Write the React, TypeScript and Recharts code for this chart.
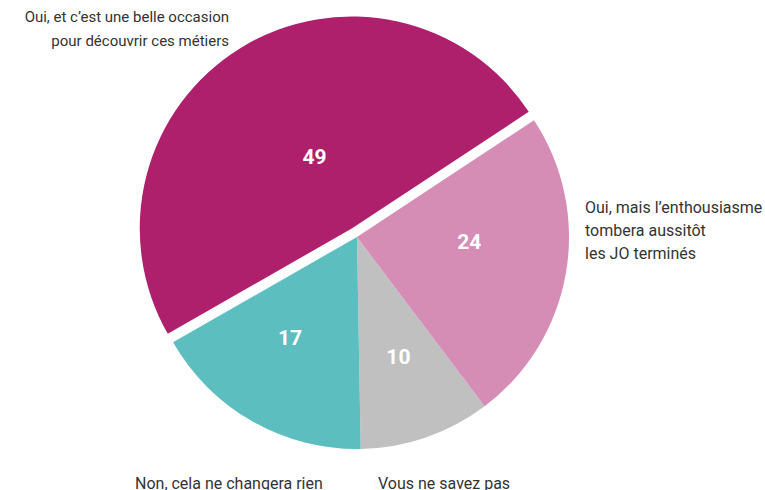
import React from 'react';
import { PieChart, Pie, Cell } from 'recharts';

// answers, counter-clockwise from the bottom
const answers = [
  'Vous ne savez pas',
  'Oui, mais l\u2019enthousiasme tombera aussitôt les JO terminés',
  'Oui, et c\u2019est une belle occasion pour découvrir ces métiers',
  'Non, cela ne changera rien',
];
const shares = [10, 24, 49, 17];
const COLORS = ['#c0c0c0', '#d58cb5', '#ae1f6c', '#5cbebf'];
const EXPLODED = 2;

const data = answers.map((name, i) => ({ name, value: shares[i] }));

const W = 765;
const H = 490;
const CX = 357;
const CY = 237;
const R = 212;
const START = -89;
const PULL = 10;
// label placement tweaks (radius fraction, angle nudge in degrees)
const LABEL_R = [0.6, 0.53, 0.38, 0.57];
const LABEL_TURN = [0, 7, -4, -4];
const RAD = Math.PI / 180;

const total = shares.reduce((a, b) => a + b, 0);
const before = shares.slice(0, EXPLODED).reduce((a, b) => a + b, 0);
const pullAngle = START + (360 * (before + shares[EXPLODED] / 2)) / total;
const pullX = Math.cos(pullAngle * RAD) * PULL;
const pullY = -Math.sin(pullAngle * RAD) * PULL;

const renderValue = (show: (i: number) => boolean) => (props: any) => {
  const { cx, cy, midAngle, outerRadius, index, value } = props;
  if (!show(index)) return null;
  const r = outerRadius * LABEL_R[index];
  const a = (midAngle + LABEL_TURN[index]) * RAD;
  const x = cx + r * Math.cos(-a);
  const y = cy + r * Math.sin(-a);
  return (
    <text
      x={x}
      y={y}
      fill="#ffffff"
      fontSize={21}
      fontWeight={700}
      fontFamily="Roboto, sans-serif"
      textAnchor="middle"
      dominantBaseline="central"
    >
      {value}
    </text>
  );
};

const textStyle: React.CSSProperties = {
  position: 'absolute',
  fontFamily: 'Roboto, sans-serif',
  fontSize: 16,
  lineHeight: '23.5px',
  color: '#333333',
  whiteSpace: 'nowrap',
};

const App: React.FC = () => {
  return (
    <div style={{ position: 'absolute', left: 0, top: 0, width: W, height: H, overflow: 'hidden', background: '#fff' }}>
      <PieChart width={W} height={H} margin={{ top: 0, right: 0, bottom: 0, left: 0 }}>
        <Pie
          data={data}
          dataKey="value"
          cx={CX}
          cy={CY}
          outerRadius={R}
          startAngle={START}
          endAngle={START + 360}
          stroke="none"
          labelLine={false}
          label={renderValue((i) => i !== EXPLODED)}
          isAnimationActive={false}
        >
          {data.map((d, i) => (
            <Cell key={`base-${i}`} fill={i === EXPLODED ? 'none' : COLORS[i]} />
          ))}
        </Pie>
        <Pie
          data={data}
          dataKey="value"
          cx={CX + pullX}
          cy={CY + pullY}
          outerRadius={R}
          startAngle={START}
          endAngle={START + 360}
          stroke="none"
          labelLine={false}
          label={renderValue((i) => i === EXPLODED)}
          isAnimationActive={false}
        >
          {data.map((d, i) => (
            <Cell key={`pull-${i}`} fill={i === EXPLODED ? COLORS[i] : 'none'} />
          ))}
        </Pie>
      </PieChart>

      <div style={{ ...textStyle, fontSize: 15, right: W - 229, top: 6, textAlign: 'right' }}>
        Oui, et c’est une belle occasion
        <br />
        pour découvrir ces métiers
      </div>
      <div style={{ ...textStyle, left: 585, top: 196, lineHeight: '23px' }}>
        Oui, mais l’enthousiasme
        <br />
        tombera aussitôt
        <br />
        les JO terminés
      </div>
      <div style={{ ...textStyle, left: 135, top: 472 }}>Non, cela ne changera rien</div>
      <div style={{ ...textStyle, left: 378, top: 472 }}>Vous ne savez pas</div>
    </div>
  );
};

export default App;
